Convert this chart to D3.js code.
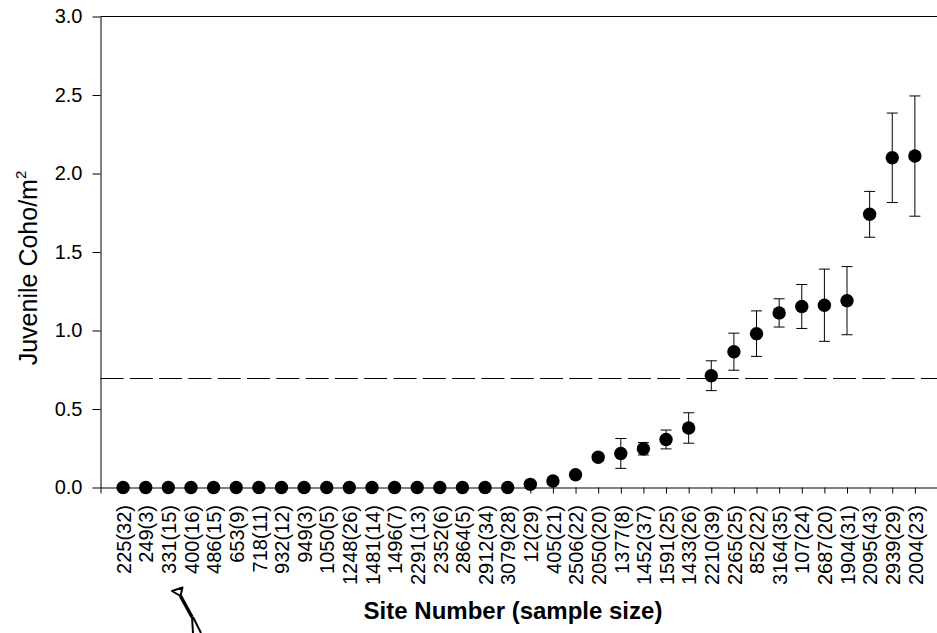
<!DOCTYPE html>
<html>
<head>
<meta charset="utf-8">
<script src="https://cdn.jsdelivr.net/npm/d3@7"></script>
<style>
  html, body { margin: 0; padding: 0; background: #fff; }
  svg { display: block; font-family: "Liberation Sans", Arial, sans-serif; }
</style>
</head>
<body>
<svg id="chart" width="937" height="633"></svg>
<script>
// Site labels: site number with sample size in parentheses
const sites = [
  "225(32)", "249(3)", "331(15)", "400(16)", "486(15)", "653(9)", "718(11)",
  "932(12)", "949(3)", "1050(5)", "1248(26)", "1481(14)", "1496(7)", "2291(13)",
  "2352(6)", "2864(5)", "2912(34)", "3079(28)", "12(29)", "405(21)", "2506(22)",
  "2050(20)", "1377(8)", "1452(37)", "1591(25)", "1433(26)", "2210(39)", "2265(25)",
  "852(22)", "3164(35)", "107(24)", "2687(20)", "1904(31)", "2095(43)", "2939(29)",
  "2004(23)"
];

// Mean juvenile coho density (fish per m²) at each site
const density = [
  0, 0, 0, 0, 0, 0, 0, 0, 0, 0, 0, 0, 0, 0, 0, 0, 0, 0,
  0.02, 0.041, 0.081, 0.193, 0.217, 0.247, 0.306, 0.379, 0.712, 0.865,
  0.98, 1.112, 1.153, 1.161, 1.19, 1.74, 2.10, 2.111
];

// Standard error of each mean
const stdErr = [
  0, 0, 0, 0, 0, 0, 0, 0, 0, 0, 0, 0, 0, 0, 0, 0, 0, 0,
  0, 0, 0.015, 0.02, 0.095, 0.04, 0.06, 0.097, 0.095, 0.118,
  0.145, 0.09, 0.14, 0.23, 0.217, 0.146, 0.285, 0.383
];

// Y axis tick values and the reference density level
const yTicks = [0, 0.5, 1.0, 1.5, 2.0, 2.5, 3.0];
const threshold = 0.7;

const svg = d3.select("#chart");
const font = "'Liberation Sans', Arial, sans-serif";

const x = d3.scaleLinear().domain([0, sites.length + 1]).range([100.5, 937.5]);
const y = d3.scaleLinear().domain([0, 3]).range([487.5, 16.5]);

// Top frame line
svg.append("line")
  .attr("x1", x(0)).attr("x2", x(sites.length + 1))
  .attr("y1", y(3)).attr("y2", y(3))
  .attr("stroke", "#000").attr("stroke-width", 1);

// X axis with rotated site labels
const xAxis = d3.axisBottom(x)
  .tickValues(d3.range(0, sites.length + 1))
  .tickSize(6)
  .tickSizeOuter(0)
  .tickFormat(d => d === 0 ? "" : sites[d - 1]);

const gx = svg.append("g")
  .attr("transform", `translate(0,${y(0)})`)
  .call(xAxis);
gx.select(".domain").attr("stroke", "#000");
gx.selectAll(".tick line").attr("stroke", "#000");
gx.selectAll(".tick text")
  .attr("font-family", font)
  .attr("font-size", 20)
  .attr("fill", "#000")
  .attr("text-anchor", "end")
  .attr("transform", "rotate(-90)")
  .attr("x", -17.5)
  .attr("y", 0)
  .attr("dy", "0.36em");

// Y axis
const yAxis = d3.axisLeft(y)
  .tickValues(yTicks)
  .tickSize(8)
  .tickSizeOuter(0)
  .tickPadding(10)
  .tickFormat(d3.format(".1f"));

const gy = svg.append("g")
  .attr("transform", `translate(${x(0)},0)`)
  .call(yAxis);
gy.select(".domain").attr("stroke", "#000");
gy.selectAll(".tick line").attr("stroke", "#000");
gy.selectAll(".tick text")
  .attr("font-family", font)
  .attr("font-size", 20)
  .attr("fill", "#000");

// Dashed reference line
svg.append("line")
  .attr("x1", x(0)).attr("x2", x(sites.length + 1))
  .attr("y1", Math.round(y(threshold)) + 0.5).attr("y2", Math.round(y(threshold)) + 0.5)
  .attr("stroke", "#000").attr("stroke-width", 1)
  .attr("stroke-dasharray", "23,6.3");

// Error bars
const rows = sites.map((s, i) => ({ site: s, i: i + 1, v: density[i], e: stdErr[i] }));
const capHalf = 5.5;
const eb = svg.append("g").attr("stroke", "#000").attr("stroke-width", 1);
rows.filter(d => d.e > 0).forEach(d => {
  const cx = x(d.i);
  eb.append("line").attr("x1", cx).attr("x2", cx)
    .attr("y1", y(d.v - d.e)).attr("y2", y(d.v + d.e));
  [d.v - d.e, d.v + d.e].forEach(val => {
    eb.append("line")
      .attr("x1", cx - capHalf).attr("x2", cx + capHalf)
      .attr("y1", y(val)).attr("y2", y(val));
  });
});

// Mean markers
svg.append("g").selectAll("circle")
  .data(rows)
  .join("circle")
  .attr("cx", d => x(d.i))
  .attr("cy", d => y(d.v))
  .attr("r", 6.7)
  .attr("fill", "#000");

// Axis titles
const yTitle = svg.append("text")
  .attr("transform", "translate(37,268) rotate(-90)")
  .attr("text-anchor", "middle")
  .attr("font-family", font)
  .attr("font-size", 25)
  .attr("fill", "#000");
yTitle.append("tspan").text("Juvenile Coho/m");
yTitle.append("tspan").attr("font-size", 15).attr("dy", -11).text("2");

svg.append("text")
  .attr("x", 513)
  .attr("y", 619)
  .attr("text-anchor", "middle")
  .attr("font-family", font)
  .attr("font-size", 24)
  .attr("font-weight", "bold")
  .attr("fill", "#000")
  .text("Site Number (sample size)");

// Small pen sketch below the axis
const pen = svg.append("g").attr("fill", "none").attr("stroke", "#000").attr("stroke-linejoin", "round");
pen.append("path").attr("d", "M172,591 L182.5,587.5 L180.5,596 Z").attr("stroke-width", 2);
pen.append("path").attr("d", "M180.5,596 L192,617").attr("stroke-width", 3.5);
pen.append("path").attr("d", "M192,617 L193,633").attr("stroke-width", 2);
pen.append("path").attr("d", "M193,617 L201,633").attr("stroke-width", 2);
</script>
</body>
</html>
